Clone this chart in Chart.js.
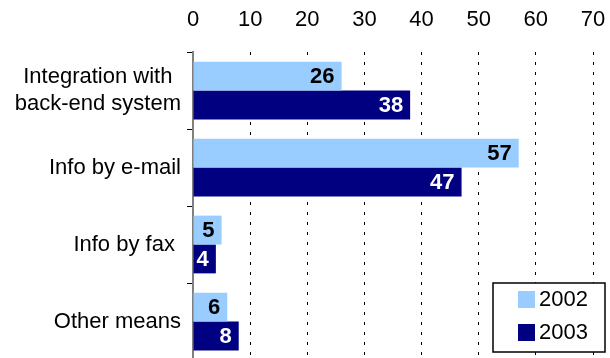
<!DOCTYPE html>
<html>
<head>
<meta charset="utf-8">
<script src="https://cdn.jsdelivr.net/npm/chart.js@4.4.0/dist/chart.umd.min.js"></script>
<style>
  html, body { margin: 0; padding: 0; background: #fff; overflow: hidden; }
  #wrap { position: relative; width: 610px; height: 360px; }
</style>
</head>
<body>
<div id="wrap"><canvas id="barChart"></canvas></div>
<script>
// data
const categories = [['Integration with', 'back-end system'], 'Info by e-mail', 'Info by fax ', 'Other means'];
const seriesNames = ['2002', '2003'];
const values2002 = [26, 57, 5, 6];
const values2003 = [38, 47, 4, 8];
const xMin = 0, xMax = 70, xStep = 10;

const colors = ['#99ccff', '#000080'];
const labelColors = ['#000', '#fff'];
const FONT = '"Liberation Sans", Arial, sans-serif';
const FS = 22;

// value labels at the bar ends
const valueLabels = {
  id: 'valueLabels',
  afterDatasetsDraw(chart) {
    const ctx = chart.ctx;
    ctx.save();
    ctx.font = 'bold ' + FS + 'px ' + FONT;
    ctx.textAlign = 'right';
    ctx.textBaseline = 'middle';
    chart.data.datasets.forEach((ds, di) => {
      chart.getDatasetMeta(di).data.forEach((bar, i) => {
        ctx.fillStyle = labelColors[di];
        ctx.fillText(ds.data[i], bar.x - 7, bar.y + 1);
      });
    });
    ctx.restore();
  }
};

// category labels: block right aligned, lines centred inside block
const catLabels = {
  id: 'catLabels',
  afterDraw(chart) {
    const ctx = chart.ctx;
    const y = chart.scales.y;
    ctx.save();
    ctx.font = FS + 'px ' + FONT;
    ctx.fillStyle = '#000';
    ctx.textAlign = 'center';
    ctx.textBaseline = 'middle';
    chart.data.labels.forEach((lab, i) => {
      const lines = Array.isArray(lab) ? lab : [lab];
      const w = Math.max(...lines.map(l => ctx.measureText(l).width));
      const right = chart.chartArea.left - 12;
      const cx = right - w / 2;
      const yc = y.getPixelForTick(i);
      lines.forEach((l, j) => {
        ctx.fillText(l, cx, yc + (j - (lines.length - 1) / 2) * 27);
      });
    });
    ctx.restore();
  }
};

// boxed legend in the lower right corner
const boxLegend = {
  id: 'boxLegend',
  afterDraw(chart) {
    const ctx = chart.ctx;
    const a = chart.chartArea;
    const bx = a.right - 100, by = a.bottom - 77, bw = 112, bh = 69;
    ctx.save();
    ctx.fillStyle = '#fff';
    ctx.fillRect(bx, by, bw, bh);
    ctx.strokeStyle = '#000';
    ctx.lineWidth = 1.5;
    ctx.strokeRect(bx, by, bw, bh);
    ctx.font = FS + 'px ' + FONT;
    ctx.textBaseline = 'middle';
    ctx.textAlign = 'left';
    seriesNames.forEach((name, i) => {
      const cy = by + 16 + i * 33;
      ctx.fillStyle = colors[i];
      ctx.fillRect(bx + 25, cy - 8, 17, 17);
      ctx.fillStyle = '#000';
      ctx.fillText(name, bx + 46, cy + 1);
    });
    ctx.restore();
  }
};

new Chart(document.getElementById('barChart'), {
  type: 'bar',
  data: {
    labels: categories,
    datasets: [
      { label: seriesNames[0], data: values2002, backgroundColor: colors[0] },
      { label: seriesNames[1], data: values2003, backgroundColor: colors[1] }
    ]
  },
  options: {
    indexAxis: 'y',
    responsive: true,
    maintainAspectRatio: false,
    animation: false,
    datasets: { bar: { categoryPercentage: 0.75, barPercentage: 1.0 } },
    layout: { padding: { right: 17, top: 0, bottom: 0, left: 0 } },
    plugins: {
      legend: { display: false },
      tooltip: { enabled: false },
      title: { display: false }
    },
    scales: {
      x: {
        position: 'top',
        min: xMin,
        max: xMax,
        ticks: { stepSize: xStep, color: '#000', padding: 19, font: { family: FONT, size: FS } },
        grid: {
          color: c => (c.tick && c.tick.value === 0) ? 'rgba(0,0,0,0)' : '#000',
          lineWidth: 1,
          drawTicks: false
        },
        border: { display: false, dash: [3, 7] },
        afterFit(scale) {
          scale.height = 52;
          scale.paddingLeft = 0;
          scale.paddingRight = 0;
        }
      },
      y: {
        ticks: { display: false },
        grid: { drawOnChartArea: false, drawTicks: true, tickLength: 6, color: '#000', offset: true },
        border: { display: true, color: '#808080', width: 2 },
        afterFit(scale) {
          scale.width = 193;
          scale.paddingTop = 0;
          scale.paddingBottom = 0;
        }
      }
    }
  },
  plugins: [valueLabels, catLabels, boxLegend]
});
</script>
</body>
</html>
